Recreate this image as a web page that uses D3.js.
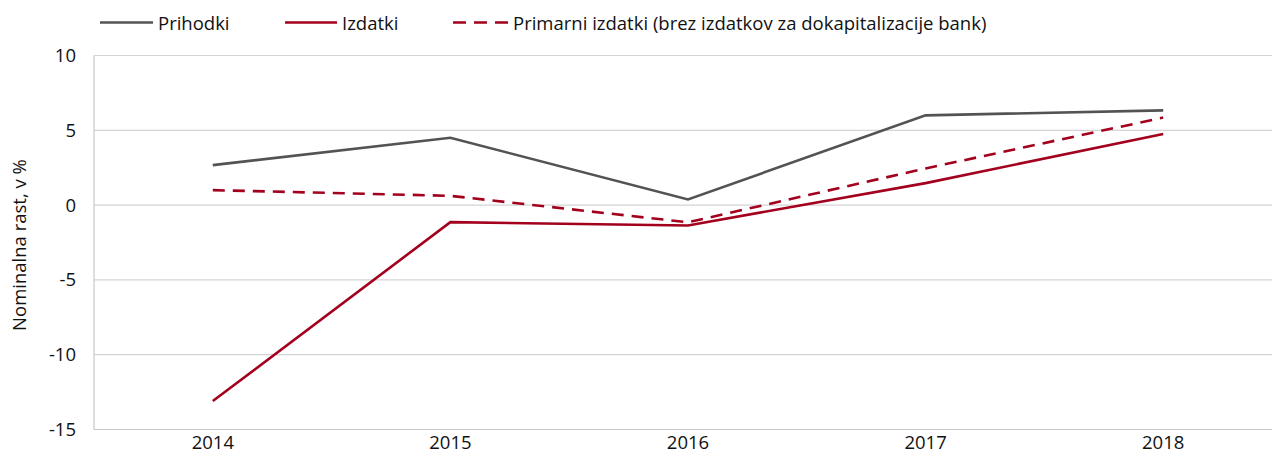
<!DOCTYPE html>
<html><head><meta charset="utf-8">
<script src="https://cdn.jsdelivr.net/npm/d3@7"></script>
<style>body{margin:0;background:#fff}svg{display:block}text{font-family:"Open Sans",sans-serif;fill:#111}</style>
</head><body><svg id="c" width="1272" height="454"></svg>
<script>
const years = ["2014","2015","2016","2017","2018"];
const prihodki = [2.67, 4.5, 0.38, 6.0, 6.33];
const izdatki = [-13.1, -1.14, -1.36, 1.47, 4.75];
const primarni = [1.0, 0.62, -1.15, 2.45, 5.85];
const yTicks = [10, 5, 0, -5, -10, -15];
const seriesNames = ["Prihodki", "Izdatki", "Primarni izdatki (brez izdatkov za dokapitalizacije bank)"];

(function(){
const svg = d3.select("#c");
const FS = 18.5;
const pL = 94, pR = 1282, pT = 55.5, pB = 429.5;
const x = d3.scaleBand().domain(years).range([pL, pR]);
const y = d3.scaleLinear().domain([-15, 10]).range([pB, pT]);
const cx = d => x(d) + x.bandwidth()/2;

svg.append("g").selectAll("line").data(yTicks.filter(t => t !== -15)).join("line")
  .attr("x1", pL).attr("x2", 1272).attr("y1", d => y(d)).attr("y2", d => y(d))
  .attr("stroke", "#d4d4d4").attr("stroke-width", 1.2);
svg.append("line").attr("x1", pL).attr("x2", pL).attr("y1", pT).attr("y2", pB).attr("stroke", "#c8c8c8").attr("stroke-width", 1.2);
svg.append("line").attr("x1", pL).attr("x2", 1272).attr("y1", y(-15)).attr("y2", y(-15)).attr("stroke", "#c8c8c8").attr("stroke-width", 1.2);

const yAxis = d3.axisLeft(y).tickValues(yTicks).tickSize(0).tickPadding(18).tickFormat(d => String(d));
const gy = svg.append("g").attr("transform", `translate(${pL},0)`).call(yAxis);
gy.select(".domain").remove();
gy.selectAll("text").attr("font-size", FS).attr("font-family", "Open Sans").attr("fill", "#111");

const xAxis = d3.axisBottom(x).tickSize(0).tickPadding(6);
const gx = svg.append("g").attr("transform", `translate(0,${pB})`).call(xAxis);
gx.select(".domain").remove();
gx.selectAll("text").attr("font-size", FS).attr("font-family", "Open Sans").attr("fill", "#111");

const line = d3.line().x((d,i) => cx(years[i])).y(d => y(d));
const series = [
  {vals: prihodki, color: "#535353", dash: null},
  {vals: izdatki, color: "#a3001e", dash: null},
  {vals: primarni, color: "#a3001e", dash: "12,8"}
];
series.forEach(s => {
  svg.append("path").datum(s.vals).attr("d", line).attr("fill", "none")
    .attr("stroke", s.color).attr("stroke-width", 2.6).attr("stroke-dasharray", s.dash);
});

svg.append("text").attr("transform", "translate(26,245) rotate(-90)").attr("text-anchor", "middle")
  .attr("font-size", FS).text("Nominalna rast, v %");

const leg = [
  {x1: 100, x2: 153, tx: 158, s: series[0], name: seriesNames[0], dash: null},
  {x1: 285, x2: 337, tx: 342, s: series[1], name: seriesNames[1], dash: null},
  {x1: 453, x2: 508, tx: 513, s: series[2], name: seriesNames[2], dash: "13,8"}
];
leg.forEach(l => {
  svg.append("line").attr("x1", l.x1).attr("x2", l.x2).attr("y1", 22.5).attr("y2", 22.5)
    .attr("stroke", l.s.color).attr("stroke-width", 2.6).attr("stroke-dasharray", l.dash);
  svg.append("text").attr("x", l.tx).attr("y", 29.5).attr("font-size", FS).text(l.name);
});
})();
</script></body></html>
